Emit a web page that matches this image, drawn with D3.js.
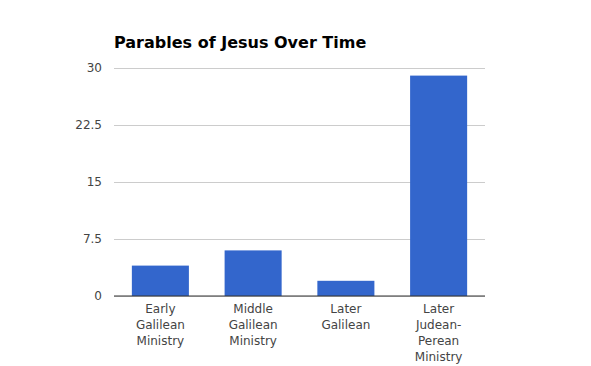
<!DOCTYPE html>
<html><head><meta charset="utf-8">
<script src="https://cdn.jsdelivr.net/npm/d3@7"></script>
<style>body{margin:0;background:#fff}</style>
</head><body>
<script>
const categories = [["Early","Galilean","Ministry"],["Middle","Galilean","Ministry"],["Later","Galilean"],["Later","Judean-","Perean","Ministry"]];
const values = [4, 6, 2, 29];
const yTicks = [0, 7.5, 15, 22.5, 30];
const title = "Parables of Jesus Over Time";

const W = 591, H = 366;
const m = {left:114, right:106, top:68, bottom:70};
const svg = d3.select("body").append("svg").attr("width", W).attr("height", H)
  .style("font-family", "'DejaVu Sans', Verdana, sans-serif");

const x = d3.scaleBand().domain(d3.range(values.length)).range([m.left, W - m.right]).paddingInner(0.385).paddingOuter(0.1925);
const y = d3.scaleLinear().domain([0, 30]).range([H - m.bottom, m.top]);

svg.append("text").attr("x", 114).attr("y", 48).text(title)
  .attr("font-weight", "bold").attr("font-size", 16).attr("fill", "#000");

const yAxis = d3.axisLeft(y).tickValues(yTicks).tickSize(-(W - m.left - m.right)).tickPadding(12).tickFormat(d => String(d));
const gy = svg.append("g").attr("transform", `translate(${m.left},0)`).call(yAxis);
gy.select(".domain").remove();
gy.selectAll(".tick line").attr("stroke", "#cccccc");
gy.selectAll(".tick text").attr("font-size", 12).attr("fill", "#444").attr("font-family", "'DejaVu Sans', Verdana, sans-serif");

svg.append("g").selectAll("rect").data(values).join("rect")
  .attr("x", (d, i) => x(i)).attr("width", x.bandwidth())
  .attr("y", d => y(d)).attr("height", d => y(0) - y(d))
  .attr("fill", "#3366cc");

svg.append("line").attr("x1", m.left).attr("x2", W - m.right)
  .attr("y1", y(0)).attr("y2", y(0)).attr("stroke", "#333").attr("stroke-width", 1);

const xl = svg.append("g");
categories.forEach((lines, i) => {
  const t = xl.append("text").attr("text-anchor", "middle").attr("font-size", 12).attr("fill", "#444")
    .attr("x", x(i) + x.bandwidth() / 2).attr("y", y(0) + 17);
  lines.forEach((l, j) => t.append("tspan").attr("x", x(i) + x.bandwidth() / 2).attr("dy", j === 0 ? 0 : 16).text(l));
});
</script>
</body></html>
